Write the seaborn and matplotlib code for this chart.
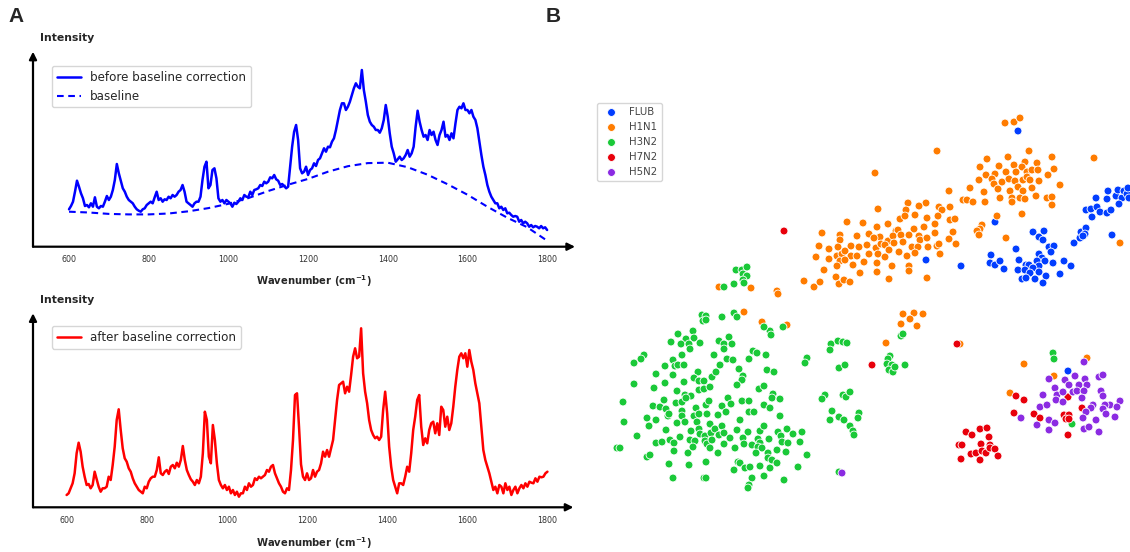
import numpy as np
import pandas as pd
import matplotlib
matplotlib.use("Agg")
import matplotlib.pyplot as plt
import seaborn as sns

# ------------------------------------------------------------
# Panel A: Raman spectrum, sampled every 5 cm-1 (600 - 1800)
# ------------------------------------------------------------
wavenumber = np.arange(600, 1801, 5)

raw_intensity = [
    37.4, 40.7, 45.0, 55.0, 66.0, 60.0, 53.4, 48.4, 40.7, 41.7,
    39.4, 43.4, 40.0, 49.4, 40.0, 38.4, 40.7, 40.0, 45.0, 50.7,
    46.7, 50.0, 56.7, 66.7, 82.7, 73.4, 66.0, 58.4, 55.0, 50.0,
    46.7, 45.0, 43.4, 40.0, 37.4, 36.0, 35.0, 37.4, 38.4, 41.7,
    43.4, 45.0, 43.4, 49.4, 55.0, 46.7, 48.4, 45.0, 47.4, 46.7,
    50.0, 48.4, 51.7, 50.0, 51.7, 55.0, 56.7, 61.7, 55.0, 45.0,
    43.4, 41.7, 40.0, 43.4, 45.0, 45.0, 50.0, 66.7, 80.0, 85.0,
    58.4, 61.7, 76.7, 78.4, 68.4, 48.4, 45.0, 46.7, 43.4, 46.7,
    45.0, 43.4, 40.0, 44.0, 42.7, 45.0, 48.4, 46.7, 51.7, 50.0,
    49.4, 55.0, 51.7, 56.7, 57.4, 58.4, 61.7, 60.7, 65.0, 63.4,
    65.0, 69.4, 68.4, 71.7, 67.4, 66.0, 61.7, 62.7, 60.7, 58.4,
    60.0, 80.0, 100.0, 115.0, 121.7, 106.7, 78.4, 73.4, 75.0, 80.0,
    71.7,
    76.7, 78.4, 83.4, 80.7, 86.7, 88.4, 93.4, 98.4, 95.0, 100.0,
    99.4, 105.0, 108.4, 116.7, 126.7, 136.7, 143.4, 143.4, 136.7, 140.0,
    145.0, 151.7, 158.4, 163.4, 160.0, 158.4, 176.7, 156.7, 145.0, 131.7,
    125.0, 121.7, 120.0, 116.7, 116.7, 114.0, 118.4, 126.7, 141.7, 130.0,
    113.4, 100.0, 93.4, 85.0, 87.4, 90.0, 86.7, 88.4, 91.7, 96.7,
    90.0, 93.4, 100.0, 120.0, 136.0, 125.0, 116.7, 110.0, 111.7, 106.7,
    116.7, 111.7, 115.0, 106.7, 101.7, 111.7, 116.7, 125.0, 110.0, 111.7,
    106.7, 113.4, 108.4, 123.4, 136.7, 140.0, 138.4, 143.4, 136.7, 136.7,
    133.4, 136.7, 130.0, 126.7, 118.4, 105.0, 91.7, 80.0, 71.7, 61.7,
    55.0, 50.0, 46.7, 43.4, 43.4, 38.4, 40.0, 36.7, 38.4, 33.4,
    34.0, 31.7, 30.0, 30.7, 30.0, 25.0, 26.7, 23.4, 25.0, 23.4,
    20.0, 21.7, 19.4, 20.7, 20.0, 18.4, 20.7, 18.4, 19.4, 16.7,
]

baseline_wn = [600, 650, 700, 750, 800, 850, 900, 950, 1000, 1050, 1100,
               1150, 1200, 1250, 1300, 1350, 1400, 1450, 1500, 1550, 1600,
               1650, 1700, 1750, 1800]
baseline_intensity = [35.0, 34.2, 32.8, 32.3, 32.3, 33.2, 35.4, 38.6, 42.9,
                      48.6, 55.7, 62.0, 67.8, 75.0, 80.5, 83.6, 84.0, 79.5,
                      72.0, 62.5, 52.0, 40.0, 29.0, 19.5, 6.0]

corrected_intensity = [
    12.3, 14.0, 19.0, 24.0, 34.0, 54.0, 64.6, 55.6, 40.6, 30.6,
    22.3, 23.3, 19.0, 22.3, 35.6, 28.0, 20.6, 15.6, 19.0, 19.0,
    20.6, 30.6, 27.3, 42.3, 60.6, 87.3, 98.0, 77.3, 59.0, 49.0,
    45.6, 39.0, 35.6, 29.0, 24.0, 20.6, 17.3, 15.6, 14.0, 20.6,
    19.0, 25.6, 29.0, 30.6, 30.6, 37.3, 50.0, 34.0, 32.3, 35.6,
    37.3, 33.3, 40.6, 42.3, 39.0, 44.6, 40.6, 47.3, 61.3, 47.3,
    37.3, 32.3, 28.0, 25.6, 22.3, 27.3, 24.0, 30.6, 54.0, 95.6,
    87.3, 50.6, 44.0, 82.3, 67.3, 44.0, 27.3, 22.3, 19.0, 22.3,
    17.3, 20.6, 14.0, 17.3, 12.3, 15.6, 10.6, 14.0, 14.0, 20.6,
    17.3, 24.0, 20.6, 22.3, 29.0, 27.3, 30.6, 29.0, 30.6, 32.3,
    37.3, 35.6, 40.6, 42.3, 34.0, 29.0, 24.0, 20.6, 15.6, 14.0,
    19.0, 17.3, 37.3, 67.3, 112.3, 114.0, 80.6, 43.0, 30.6, 27.3,
    34.0,
    27.3, 29.0, 37.3, 30.6, 35.6, 37.3, 44.0, 55.6, 50.6, 57.3,
    50.6, 59.0, 67.3, 87.3, 107.3, 122.3, 124.0, 125.6, 114.0, 120.6,
    115.6, 132.3, 150.6, 159.0, 149.0, 150.6, 179.0, 134.0, 115.6, 104.0,
    87.3, 77.3, 72.3, 69.0, 70.6, 67.3, 70.6, 97.3, 115.6, 94.0,
    60.6, 40.6, 27.3, 20.6, 14.0, 24.0, 24.0, 22.3, 30.6, 40.6,
    35.6, 54.0, 77.3, 90.6, 107.3, 112.3, 80.6, 62.3, 69.0, 64.0,
    77.3, 84.0, 85.6, 74.0, 84.0, 72.3, 100.6, 97.3, 80.6, 90.6,
    77.3, 84.0, 100.6, 120.6, 137.3, 150.6, 154.0, 149.0, 154.0, 140.6,
    157.3, 145.6, 137.3, 124.0, 114.0, 104.0, 80.6, 57.3, 47.3, 40.6,
    34.0, 25.6, 17.3, 20.6, 14.0, 22.3, 20.6, 14.0, 24.0, 17.3,
    20.6, 12.3, 17.3, 20.6, 14.0, 19.0, 22.3, 19.0, 24.0, 20.6,
    25.6, 24.6, 24.0, 29.0, 25.6, 30.6, 30.0, 30.6, 34.0, 35.6,
]

# ------------------------------------------------------------
# Panel B: t-SNE embedding of the spectra (two components)
# ------------------------------------------------------------
subtypes = ["FLUB", "H1N1", "H3N2", "H7N2", "H5N2"]

flub_pts = [
    (1018, 131), (926, 260), (961, 266), (995, 222), (991, 255), (990, 263),
    (995, 265), (1000, 261), (1004, 269), (1016, 249), (1019, 260), (1026, 265),
    (1029, 265), (1033, 232), (1039, 237), (1044, 231), (1043, 240), (1049, 247),
    (1054, 246), (1051, 252), (1039, 254), (1042, 258), (1037, 261), (1045, 261),
    (1053, 263), (1039, 266), (1033, 268), (1039, 272), (1046, 276), (1018, 270),
    (1025, 270), (1030, 273), (1022, 279), (1026, 278), (1035, 279), (1043, 283),
    (1060, 274), (1064, 261), (1071, 266), (1074, 243), (1080, 238), (1081, 232),
    (1086, 228), (1085, 234), (1083, 236), (1112, 235), (1086, 210), (1091, 209),
    (1097, 207), (1100, 212), (1092, 217), (1107, 213), (1111, 210), (1096, 198),
    (1107, 199), (1108, 191), (1116, 196), (1118, 190), (1122, 198), (1124, 191),
    (1127, 194), (1128, 188), (1119, 204), (1129, 198), (1068, 371),
]

h1n1_pts = [
    (1005, 123), (1014, 122), (1020, 118), (937, 151), (875, 173), (1094, 158),
    (1029, 151), (987, 159), (1008, 157), (1052, 157), (980, 167), (999, 166),
    (1025, 162), (1037, 163), (1014, 165), (1022, 167), (1054, 169), (986, 175),
    (995, 174), (1006, 172), (1016, 172), (1027, 172), (1032, 170), (1038, 170),
    (1048, 175), (979, 180), (992, 179), (1002, 182), (1009, 179), (1015, 181),
    (1023, 180), (1027, 177), (1030, 180), (1039, 181), (1060, 185), (970, 188),
    (994, 184), (998, 189), (1010, 191), (1018, 187), (1023, 191), (1032, 188),
    (984, 192), (1000, 198), (1012, 198), (1020, 198), (1025, 199), (1036, 196),
    (1047, 198), (1052, 197), (949, 191), (963, 200), (967, 200), (973, 202),
    (985, 202), (1012, 202), (1052, 205), (1022, 214), (997, 216), (1006, 238),
    (1120, 243), (982, 225), (980, 229), (977, 231), (979, 235),
    (908, 203), (926, 203), (919, 206), (939, 207), (942, 210), (950, 207),
    (878, 209), (906, 210), (900, 219), (905, 216), (915, 215), (927, 218),
    (938, 216), (950, 220), (955, 219), (847, 222), (863, 223), (877, 227),
    (888, 224), (896, 231), (898, 230), (914, 229), (924, 227), (935, 224),
    (822, 233), (840, 235), (857, 236), (869, 234), (880, 237), (888, 241),
    (893, 236), (901, 235), (909, 235), (919, 236), (920, 240), (927, 238),
    (935, 233), (953, 232), (949, 239), (840, 240), (819, 246), (829, 249),
    (838, 247), (851, 246), (859, 247), (867, 245), (874, 238), (876, 248),
    (881, 244), (885, 245), (889, 250), (894, 243), (903, 242), (912, 247),
    (918, 247), (928, 247), (937, 246), (939, 244), (956, 244), (816, 257),
    (829, 259), (837, 256), (842, 254), (845, 251), (851, 256), (857, 256),
    (869, 254), (878, 254), (885, 257), (899, 252), (907, 256), (915, 253),
    (940, 254), (840, 261), (845, 260), (864, 262), (877, 263), (892, 266),
    (909, 266), (824, 270), (837, 266), (853, 265), (860, 273), (877, 272),
    (909, 271), (889, 279), (927, 278), (804, 281), (814, 287), (820, 282),
    (836, 277), (839, 284), (844, 280), (850, 282),
    (719, 287), (751, 288), (777, 291), (778, 294), (744, 312), (762, 322),
    (787, 325), (903, 314), (914, 313), (923, 314), (910, 319), (901, 324),
    (917, 326), (886, 343), (960, 344), (1087, 358), (1024, 364), (1054, 376),
    (1010, 393),
]

h3n2_pts = [
    (736, 270), (742, 270), (747, 267), (743, 274), (747, 276), (743, 280),
    (744, 283), (734, 284), (724, 287), (702, 315), (706, 316), (703, 321),
    (706, 320), (722, 317), (734, 313), (737, 317),
    (678, 334), (693, 331), (686, 339), (694, 338), (671, 342), (681, 344),
    (689, 344), (700, 343), (690, 349), (719, 341), (729, 337), (724, 344),
    (732, 344), (724, 349), (644, 355), (641, 359), (634, 363), (682, 355),
    (673, 360), (665, 366), (675, 366), (678, 365), (684, 365), (714, 355),
    (727, 359), (733, 360), (749, 359), (753, 351), (757, 353), (766, 355),
    (770, 331), (764, 327), (771, 335), (783, 327), (807, 358), (805, 363),
    (656, 374), (673, 375), (698, 372), (694, 378), (699, 381), (704, 381),
    (712, 377), (716, 372), (720, 365), (739, 369), (743, 376), (742, 380),
    (737, 385), (767, 370), (774, 372), (634, 384), (654, 388), (665, 383),
    (684, 382), (677, 391), (699, 390), (704, 389), (710, 387), (759, 389),
    (764, 386), (773, 394), (623, 402), (653, 406), (660, 407), (664, 400),
    (676, 403), (682, 402), (685, 395), (691, 396), (686, 398), (706, 405),
    (709, 401), (696, 408), (722, 406), (728, 398), (731, 404), (742, 401),
    (749, 401), (764, 405), (770, 408), (772, 398), (780, 399), (647, 418),
    (624, 422), (649, 426), (656, 420), (666, 409), (668, 416), (669, 414),
    (677, 423), (682, 411), (682, 416), (685, 422), (694, 416), (699, 414),
    (697, 422), (707, 414), (718, 415), (726, 412), (740, 420), (749, 412),
    (754, 412), (780, 416), (637, 436), (666, 430), (670, 440), (656, 443),
    (662, 442), (674, 443), (680, 437), (690, 440), (691, 431), (699, 429),
    (700, 434), (705, 436), (711, 433), (710, 424), (715, 429), (722, 426),
    (719, 435), (724, 433), (730, 438), (737, 430), (748, 432), (743, 438),
    (760, 431), (764, 426), (769, 439), (778, 432), (781, 436), (787, 429),
    (793, 434), (802, 432), (782, 442), (788, 443), (800, 442), (617, 448),
    (620, 448), (674, 451), (688, 453), (695, 441), (693, 447), (705, 441),
    (707, 444), (712, 440), (710, 448), (718, 453), (724, 444), (735, 448),
    (744, 444), (752, 445), (758, 439), (760, 443), (758, 447), (762, 448),
    (756, 453), (768, 453), (777, 450), (786, 452), (807, 455), (647, 457),
    (650, 455), (669, 464), (689, 465), (706, 462), (738, 462), (740, 463),
    (734, 470), (745, 468), (750, 467), (760, 466), (768, 458), (770, 468),
    (772, 460), (777, 463), (798, 467), (673, 478), (704, 478), (706, 478),
    (752, 478), (764, 476), (784, 480), (749, 485), (748, 488),
    (901, 336), (903, 334), (831, 344), (838, 341), (843, 342), (847, 343),
    (830, 350), (839, 368), (845, 365), (890, 356), (888, 359), (887, 364),
    (892, 365), (889, 370), (893, 372), (895, 367), (905, 365), (825, 395),
    (822, 399), (843, 395), (846, 397), (850, 392), (832, 411), (830, 420),
    (839, 417), (844, 420), (859, 413), (858, 418), (850, 426), (853, 431),
    (854, 435), (839, 472), (1053, 353), (1054, 359), (1072, 424),
]

h7n2_pts = [
    (784, 231), (872, 365), (957, 344), (1016, 396), (1024, 400), (1068, 397),
    (1082, 408), (1014, 413), (1034, 414), (1040, 418), (1064, 415), (1069, 415),
    (1066, 419), (1069, 419), (1068, 435), (966, 432), (972, 435), (980, 429),
    (987, 428), (989, 437), (959, 445), (962, 445), (981, 444), (990, 445),
    (971, 454), (976, 453), (982, 451), (986, 453), (990, 448), (995, 449),
    (961, 459), (980, 460), (998, 456),
]

h5n2_pts = [
    (1084, 362), (1049, 379), (1065, 380), (1075, 376), (1085, 379), (1099, 377),
    (1103, 375), (1055, 388), (1069, 385), (1079, 385), (1087, 385), (1043, 395),
    (1057, 395), (1063, 392), (1073, 392), (1077, 391), (1084, 391), (1101, 391),
    (1103, 396), (1056, 400), (1063, 402), (1082, 398), (1040, 407), (1047, 405),
    (1120, 401), (1110, 405), (1117, 407), (1105, 405), (1093, 405), (1091, 408),
    (1103, 409), (1086, 412), (1106, 414), (1021, 418), (1049, 420), (1055, 423),
    (1037, 425), (1083, 418), (1096, 420), (1115, 417), (1049, 430), (1084, 429),
    (1089, 427), (1099, 432), (842, 473),
]

frames = []
for name, pts in zip(subtypes, [flub_pts, h1n1_pts, h3n2_pts, h7n2_pts, h5n2_pts]):
    d = pd.DataFrame(pts, columns=["tsne1", "tsne2"])
    d["subtype"] = name
    frames.append(d)
tsne_df = pd.concat(frames, ignore_index=True)


def arrow_axes(ax, xlim, ylim):
    """Bare x / y axes with arrow heads, like the original figure."""
    ax.set_xlim(*xlim)
    ax.set_ylim(*ylim)
    for s in ax.spines.values():
        s.set_visible(False)
    ax.set_yticks([])
    ax.set_xticks(range(600, 1801, 200))
    ax.tick_params(axis="x", labelsize=5.8, labelcolor="#333333",
                   color="black", length=2.5, width=0.8, pad=3.5)
    ax.set_xlabel("")
    ax.set_ylabel("")
    arrow = dict(arrowstyle="-|>", color="black", lw=1.6,
                 shrinkA=0, shrinkB=0, mutation_scale=11)
    ax.annotate("", xy=(1, 0), xytext=(0, 0), xycoords="axes fraction",
                arrowprops=arrow, annotation_clip=False)
    ax.annotate("", xy=(0, 1), xytext=(0, 0), xycoords="axes fraction",
                arrowprops=arrow, annotation_clip=False)
    ax.patch.set_visible(False)


sns.set_style("white")
plt.rcParams["font.family"] = ["DejaVu Sans"]

W, H = 1130, 552
fig = plt.figure(figsize=(W / 100, H / 100), dpi=100)

# --- top spectrum -----------------------------------------------------
ax1 = fig.add_axes([33 / W, (H - 246.7) / H, 542 / W, 195 / H])
sns.lineplot(x=wavenumber, y=raw_intensity, color="#0000ff", lw=1.8,
             label="before baseline correction", ax=ax1)
sns.lineplot(x=baseline_wn, y=baseline_intensity, color="#0000ff", lw=1.5,
             linestyle=(0, (3.2, 2.2)), label="baseline", ax=ax1)
arrow_axes(ax1, (509.6, 1870), (0, 195))
ax1.legend(loc="upper left", bbox_to_anchor=(0.035, 0.927), borderaxespad=0,
           fontsize=8.6, frameon=True, fancybox=True, edgecolor="0.8",
           handlelength=2.0)

# --- bottom spectrum --------------------------------------------------
ax2 = fig.add_axes([33 / W, (H - 507.3) / H, 540.4 / W, 194 / H])
sns.lineplot(x=wavenumber, y=corrected_intensity, color="#ff0000", lw=1.8,
             label="after baseline correction", ax=ax2)
arrow_axes(ax2, (516.1, 1864.8), (0, 194))
ax2.legend(loc="upper left", bbox_to_anchor=(0.035, 0.934), borderaxespad=0,
           fontsize=8.6, frameon=True, fancybox=True, edgecolor="0.8",
           handlelength=2.0)

xlab = r"Wavenumber (cm$^{\mathbf{-1}}$)"
fig.text(40 / W, 1 - 38 / H, "Intensity", fontsize=7.8, fontweight="bold",
         ha="left", va="center")
fig.text(40 / W, 1 - 300 / H, "Intensity", fontsize=7.8, fontweight="bold",
         ha="left", va="center")
fig.text(314 / W, 1 - 281 / H, xlab, fontsize=7.2, fontweight="bold",
         ha="center", va="center")
fig.text(314 / W, 1 - 543 / H, xlab, fontsize=7.2, fontweight="bold",
         ha="center", va="center")

fig.text(16 / W, 1 - 16 / H, "A", fontsize=15, fontweight="bold",
         family="Liberation Sans", ha="center", va="center")
fig.text(553 / W, 1 - 17 / H, "B", fontsize=15, fontweight="bold",
         family="Liberation Sans", ha="center", va="center")

# --- t-SNE scatter ----------------------------------------------------
ax3 = fig.add_axes([590 / W, (H - 500) / H, 540 / W, 405 / H])
sns.scatterplot(data=tsne_df, x="tsne1", y="tsne2", hue="subtype",
                hue_order=subtypes, palette="bright", s=32,
                edgecolor="white", linewidth=0.6, ax=ax3)
ax3.set_xlim(590, 1130)
ax3.set_ylim(500, 95)
ax3.axis("off")
sns.move_legend(ax3, "upper left", bbox_to_anchor=(0.013, 0.98),
                borderaxespad=0, title=None, frameon=True, fontsize=7.3,
                fancybox=True, edgecolor="0.8")
for t in ax3.get_legend().get_texts():
    t.set_color("#444444")

fig.savefig("out.png", dpi=100)
